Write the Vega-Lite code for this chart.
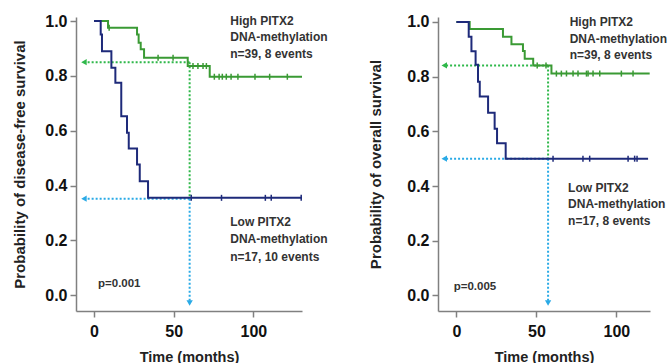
{
  "$schema": "https://vega.github.io/schema/vega-lite/v6.json",
  "padding": {"left": 12, "top": 13, "right": 0, "bottom": 0},
  "bounds": "flush",
  "spacing": 136,
  "config": {
    "view": {"stroke": null},
    "font": "Liberation Sans",
    "axis": {
      "grid": false,
      "domainColor": "#808080",
      "domainWidth": 1.5,
      "tickColor": "#808080",
      "tickWidth": 1.5,
      "tickSize": 6,
      "labelFont": "Liberation Sans",
      "labelFontSize": 16,
      "labelFontWeight": "bold",
      "labelColor": "#111111",
      "labelPadding": 3,
      "titleFont": "Liberation Sans",
      "titleFontSize": 15,
      "titleFontWeight": "bold",
      "titleColor": "#222222"
    }
  },
  "datasets": {
    "dfsCurve": [
      {"t": 0, "s": 1.0, "g": "High"}, {"t": 8.8, "s": 0.976, "g": "High"}, {"t": 27, "s": 0.951, "g": "High"}, {"t": 28, "s": 0.921, "g": "High"}, {"t": 29.3, "s": 0.897, "g": "High"}, {"t": 31.4, "s": 0.866, "g": "High"}, {"t": 58.8, "s": 0.836, "g": "High"}, {"t": 72.6, "s": 0.797, "g": "High"}, {"t": 130.5, "s": 0.797, "g": "High"},
      {"t": 0, "s": 1.0, "g": "Low"}, {"t": 4.2, "s": 0.951, "g": "Low"}, {"t": 5, "s": 0.89, "g": "Low"}, {"t": 10.9, "s": 0.83, "g": "Low"}, {"t": 13.4, "s": 0.775, "g": "Low"}, {"t": 17.1, "s": 0.653, "g": "Low"}, {"t": 20.7, "s": 0.593, "g": "Low"}, {"t": 21.8, "s": 0.535, "g": "Low"}, {"t": 27, "s": 0.477, "g": "Low"}, {"t": 28.7, "s": 0.416, "g": "Low"}, {"t": 33.9, "s": 0.355, "g": "Low"}, {"t": 130.5, "s": 0.355, "g": "Low"}
    ],
    "dfsCens": [
      {"t": 9.5, "s": 0.976, "g": "High"}, {"t": 40.2, "s": 0.866, "g": "High"}, {"t": 49.6, "s": 0.866, "g": "High"},
      {"t": 62.1, "s": 0.836, "g": "High"}, {"t": 65.2, "s": 0.836, "g": "High"}, {"t": 68.4, "s": 0.836, "g": "High"}, {"t": 70.5, "s": 0.836, "g": "High"},
      {"t": 75.5, "s": 0.797, "g": "High"}, {"t": 78.5, "s": 0.797, "g": "High"}, {"t": 80.5, "s": 0.797, "g": "High"}, {"t": 83, "s": 0.797, "g": "High"}, {"t": 86, "s": 0.797, "g": "High"}, {"t": 90.3, "s": 0.797, "g": "High"}, {"t": 101, "s": 0.797, "g": "High"}, {"t": 110.2, "s": 0.797, "g": "High"}, {"t": 121.3, "s": 0.797, "g": "High"},
      {"t": 61, "s": 0.355, "g": "Low"}, {"t": 80, "s": 0.355, "g": "Low"}, {"t": 107.5, "s": 0.355, "g": "Low"}, {"t": 111.2, "s": 0.355, "g": "Low"}, {"t": 130, "s": 0.355, "g": "Low"}
    ],
    "dfsRules": [
      {"x": 60, "x2": -6.3, "y": 0.85, "y2": 0.85, "g": "HighDot"},
      {"x": 60, "x2": 60, "y": 0.85, "y2": 0.355, "g": "HighDot"},
      {"x": 60, "x2": -6.3, "y": 0.352, "y2": 0.352, "g": "LowDot"},
      {"x": 60, "x2": 60, "y": 0.352, "y2": -0.029, "g": "LowDot"}
    ],
    "dfsArrows": [
      {"x": -6.3, "y": 0.85, "g": "HighDot", "dir": "left"},
      {"x": -6.3, "y": 0.352, "g": "LowDot", "dir": "left"},
      {"x": 60, "y": -0.029, "g": "LowDot", "dir": "down"}
    ],
    "dfsText": [
      {"x": 85.5, "y": 1.0, "label": "High PITX2"},
      {"x": 85.5, "y": 0.942, "label": "DNA-methylation"},
      {"x": 85.5, "y": 0.88, "label": "n=39, 8 events"},
      {"x": 85.5, "y": 0.267, "label": "Low PITX2"},
      {"x": 85.5, "y": 0.204, "label": "DNA-methylation"},
      {"x": 85.5, "y": 0.139, "label": "n=17, 10 events"}
    ],
    "dfsP": [{"x": 2.5, "y": 0.039, "label": "p=0.001"}],
    "osCurve": [
      {"t": 0, "s": 1.0, "g": "High"}, {"t": 8.3, "s": 0.974, "g": "High"}, {"t": 29.1, "s": 0.946, "g": "High"}, {"t": 34.4, "s": 0.918, "g": "High"}, {"t": 41.6, "s": 0.894, "g": "High"}, {"t": 42.7, "s": 0.865, "g": "High"}, {"t": 48, "s": 0.841, "g": "High"}, {"t": 59.4, "s": 0.811, "g": "High"}, {"t": 120.8, "s": 0.811, "g": "High"},
      {"t": 0, "s": 1.0, "g": "Low"}, {"t": 7.7, "s": 0.946, "g": "Low"}, {"t": 9.4, "s": 0.893, "g": "Low"}, {"t": 12, "s": 0.843, "g": "Low"}, {"t": 13.5, "s": 0.781, "g": "Low"}, {"t": 14.6, "s": 0.727, "g": "Low"}, {"t": 19.8, "s": 0.668, "g": "Low"}, {"t": 23.9, "s": 0.609, "g": "Low"}, {"t": 25.4, "s": 0.556, "g": "Low"}, {"t": 30.8, "s": 0.5, "g": "Low"}, {"t": 119.8, "s": 0.5, "g": "Low"}
    ],
    "osCens": [
      {"t": 50.5, "s": 0.841, "g": "High"}, {"t": 56, "s": 0.841, "g": "High"},
      {"t": 62.5, "s": 0.811, "g": "High"}, {"t": 65.6, "s": 0.811, "g": "High"}, {"t": 68.8, "s": 0.811, "g": "High"}, {"t": 72.9, "s": 0.811, "g": "High"}, {"t": 76, "s": 0.811, "g": "High"}, {"t": 81.3, "s": 0.811, "g": "High"}, {"t": 82.3, "s": 0.811, "g": "High"}, {"t": 85.4, "s": 0.811, "g": "High"}, {"t": 89.6, "s": 0.811, "g": "High"}, {"t": 103.1, "s": 0.811, "g": "High"}, {"t": 110.4, "s": 0.811, "g": "High"},
      {"t": 60.4, "s": 0.5, "g": "Low"}, {"t": 79.1, "s": 0.5, "g": "Low"}, {"t": 83.3, "s": 0.5, "g": "Low"}, {"t": 107.3, "s": 0.5, "g": "Low"}, {"t": 111.4, "s": 0.5, "g": "Low"}, {"t": 112.9, "s": 0.5, "g": "Low"}
    ],
    "osRules": [
      {"x": 57.3, "x2": -7.6, "y": 0.841, "y2": 0.841, "g": "HighDot"},
      {"x": 57.3, "x2": 57.3, "y": 0.841, "y2": 0.5, "g": "HighDot"},
      {"x": 57.3, "x2": -7.6, "y": 0.5, "y2": 0.5, "g": "LowDot"},
      {"x": 57.3, "x2": 57.3, "y": 0.5, "y2": -0.028, "g": "LowDot"}
    ],
    "osArrows": [
      {"x": -7.6, "y": 0.841, "g": "HighDot", "dir": "left"},
      {"x": -7.6, "y": 0.5, "g": "LowDot", "dir": "left"},
      {"x": 57.3, "y": -0.028, "g": "LowDot", "dir": "down"}
    ],
    "osText": [
      {"x": 70.8, "y": 1.0, "label": "High PITX2"},
      {"x": 70.8, "y": 0.939, "label": "DNA-methylation"},
      {"x": 70.8, "y": 0.878, "label": "n=39, 8 events"},
      {"x": 69.8, "y": 0.394, "label": "Low PITX2"},
      {"x": 69.8, "y": 0.333, "label": "DNA-methylation"},
      {"x": 69.8, "y": 0.272, "label": "n=17, 8 events"}
    ],
    "osP": [{"x": -1.7, "y": 0.03, "label": "p=0.005"}]
  },
  "hconcat": [
    {
      "width": 226,
      "height": 294,
      "layer": [
        {
          "data": {"name": "dfsRules"},
          "mark": {"type": "rule", "strokeDash": [2, 2], "strokeWidth": 2},
          "encoding": {
            "x": {"field": "x", "type": "quantitative", "scale": {"domain": [-11.3, 130.5], "nice": false, "zero": false}, "axis": {"values": [0, 50, 100], "labelPadding": 6, "titlePadding": 11, "titleFontSize": 14.5}, "title": "Time (months)"},
            "x2": {"field": "x2"},
            "y": {"field": "y", "type": "quantitative", "scale": {"domain": [-0.058, 1.015], "nice": false, "zero": false}, "axis": {"values": [0, 0.2, 0.4, 0.6, 0.8, 1.0], "format": ".1f", "titlePadding": 17}, "title": "Probability of disease-free survival"},
            "y2": {"field": "y2"},
            "color": {"field": "g", "type": "nominal", "scale": {"domain": ["High", "Low", "HighDot", "LowDot"], "range": ["#3a9a34", "#1e2a7a", "#2fb84a", "#2aaae6"]}, "legend": null}
          }
        },
        {
          "data": {"name": "dfsCurve"},
          "mark": {"type": "line", "interpolate": "step-after", "strokeWidth": 2},
          "encoding": {
            "x": {"field": "t", "type": "quantitative"},
            "y": {"field": "s", "type": "quantitative"},
            "color": {"field": "g", "type": "nominal"}
          }
        },
        {
          "data": {"name": "dfsCens"},
          "mark": {"type": "tick", "orient": "vertical", "size": 6, "thickness": 1.5, "opacity": 1},
          "encoding": {
            "x": {"field": "t", "type": "quantitative"},
            "y": {"field": "s", "type": "quantitative"},
            "color": {"field": "g", "type": "nominal"}
          }
        },
        {
          "data": {"name": "dfsArrows"},
          "mark": {"type": "point", "filled": true, "size": 40, "opacity": 1},
          "encoding": {
            "x": {"field": "x", "type": "quantitative"},
            "y": {"field": "y", "type": "quantitative"},
            "color": {"field": "g", "type": "nominal"},
            "shape": {"field": "dir", "type": "nominal", "scale": {"domain": ["left", "down"], "range": ["triangle-left", "triangle-down"]}, "legend": null}
          }
        },
        {
          "data": {"name": "dfsText"},
          "mark": {"type": "text", "align": "left", "baseline": "middle", "fontSize": 12, "fontWeight": "bold", "color": "#333333", "font": "Liberation Sans"},
          "encoding": {
            "x": {"field": "x", "type": "quantitative"},
            "y": {"field": "y", "type": "quantitative"},
            "text": {"field": "label"}
          }
        },
        {
          "data": {"name": "dfsP"},
          "mark": {"type": "text", "align": "left", "baseline": "middle", "fontSize": 11.5, "fontWeight": "bold", "color": "#333333", "font": "Liberation Sans"},
          "encoding": {
            "x": {"field": "x", "type": "quantitative"},
            "y": {"field": "y", "type": "quantitative"},
            "text": {"field": "label"}
          }
        }
      ]
    },
    {
      "width": 212,
      "height": 294,
      "layer": [
        {
          "data": {"name": "osRules"},
          "mark": {"type": "rule", "strokeDash": [2, 2], "strokeWidth": 2},
          "encoding": {
            "x": {"field": "x", "type": "quantitative", "scale": {"domain": [-11.5, 121], "nice": false, "zero": false}, "axis": {"values": [0, 50, 100], "labelPadding": 6, "titlePadding": 11, "titleFontSize": 14.5}, "title": "Time (months)"},
            "x2": {"field": "x2"},
            "y": {"field": "y", "type": "quantitative", "scale": {"domain": [-0.057, 1.018], "nice": false, "zero": false}, "axis": {"values": [0, 0.2, 0.4, 0.6, 0.8, 1.0], "format": ".1f", "titlePadding": 23}, "title": "Probability of overall survival"},
            "y2": {"field": "y2"},
            "color": {"field": "g", "type": "nominal", "scale": {"domain": ["High", "Low", "HighDot", "LowDot"], "range": ["#3fa83a", "#1e2a7a", "#2a9a3a", "#3a8fd8"]}, "legend": null}
          }
        },
        {
          "data": {"name": "osCurve"},
          "mark": {"type": "line", "interpolate": "step-after", "strokeWidth": 2},
          "encoding": {
            "x": {"field": "t", "type": "quantitative"},
            "y": {"field": "s", "type": "quantitative"},
            "color": {"field": "g", "type": "nominal"}
          }
        },
        {
          "data": {"name": "osCens"},
          "mark": {"type": "tick", "orient": "vertical", "size": 6, "thickness": 1.5, "opacity": 1},
          "encoding": {
            "x": {"field": "t", "type": "quantitative"},
            "y": {"field": "s", "type": "quantitative"},
            "color": {"field": "g", "type": "nominal"}
          }
        },
        {
          "data": {"name": "osArrows"},
          "mark": {"type": "point", "filled": true, "size": 40, "opacity": 1},
          "encoding": {
            "x": {"field": "x", "type": "quantitative"},
            "y": {"field": "y", "type": "quantitative"},
            "color": {"field": "g", "type": "nominal"},
            "shape": {"field": "dir", "type": "nominal", "scale": {"domain": ["left", "down"], "range": ["triangle-left", "triangle-down"]}, "legend": null}
          }
        },
        {
          "data": {"name": "osText"},
          "mark": {"type": "text", "align": "left", "baseline": "middle", "fontSize": 12, "fontWeight": "bold", "color": "#333333", "font": "Liberation Sans"},
          "encoding": {
            "x": {"field": "x", "type": "quantitative"},
            "y": {"field": "y", "type": "quantitative"},
            "text": {"field": "label"}
          }
        },
        {
          "data": {"name": "osP"},
          "mark": {"type": "text", "align": "left", "baseline": "middle", "fontSize": 11.5, "fontWeight": "bold", "color": "#333333", "font": "Liberation Sans"},
          "encoding": {
            "x": {"field": "x", "type": "quantitative"},
            "y": {"field": "y", "type": "quantitative"},
            "text": {"field": "label"}
          }
        }
      ]
    }
  ]
}
